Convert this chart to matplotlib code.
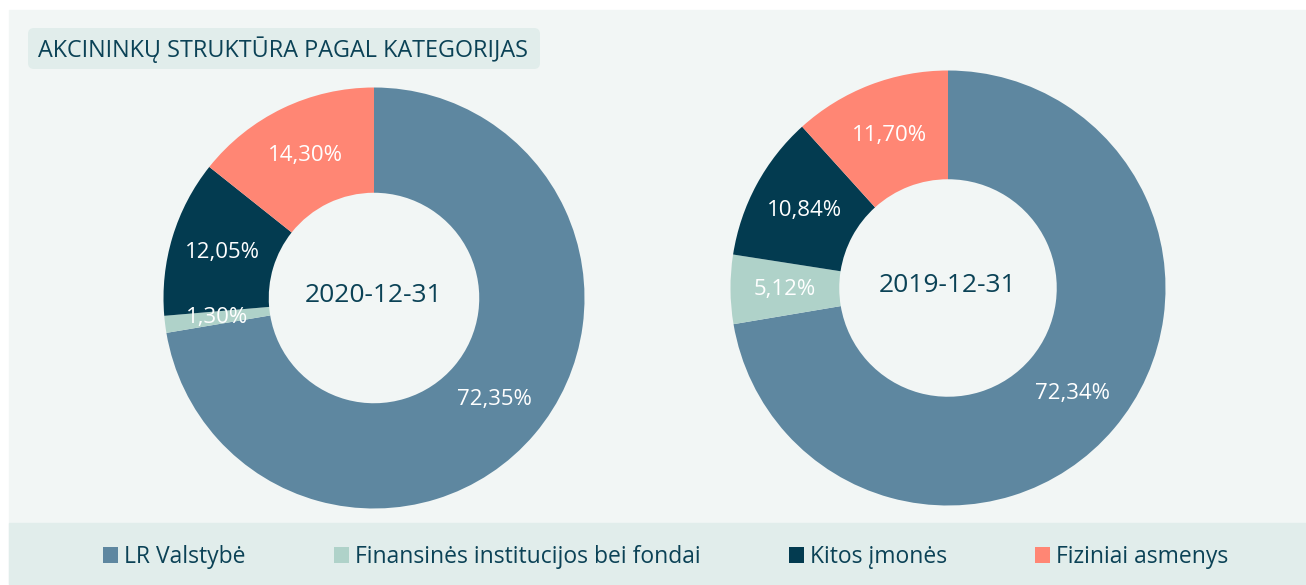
import matplotlib.pyplot as plt
from matplotlib.patches import Rectangle, FancyBboxPatch, Patch

plt.rcParams['font.family'] = ['Open Sans', 'DejaVu Sans']

categories = ['LR Valstybė', 'Finansinės institucijos bei fondai',
              'Kitos įmonės', 'Fiziniai asmenys']
share_2020 = [72.35, 1.30, 12.05, 14.30]
share_2019 = [72.34, 5.12, 10.84, 11.70]
dates = ['2020-12-31', '2019-12-31']
title = 'AKCININKŲ STRUKTŪRA PAGAL KATEGORIJAS'

colors = ['#5e87a0', '#afd2c9', '#033b50', '#ff8674']
text_col = '#0b4256'
panel_bg = '#f2f6f5'
band_bg = '#e1edeb'

W, H = 1306, 585
fig = plt.figure(figsize=(W / 100, H / 100), dpi=100)
fig.patch.set_facecolor('white')
ax = fig.add_axes([0, 0, 1, 1])
ax.set_xlim(0, W)
ax.set_ylim(0, H)
ax.set_aspect('equal')
ax.axis('off')

# panel background + legend band
ax.add_patch(Rectangle((9, 0), W - 9, H - 10, color=panel_bg, zorder=0))
ax.add_patch(Rectangle((9, 1), W - 9, 61, color=band_bg, zorder=0))

# title box
ax.add_patch(FancyBboxPatch((28, H - 69), 512, 41,
                            boxstyle='round,pad=0,rounding_size=6',
                            color=band_bg, lw=0, zorder=1))
ax.text(38, H - 50, title, fontsize=16.8, color=text_col,
        va='center', ha='left', zorder=2)


def pct_fmt(p):
    return '{:.2f}%'.format(p).replace('.', ',')


def donut(vals, cx, cy, r, label):
    wedges, _, autotexts = ax.pie(
        vals, colors=colors, startangle=90, counterclock=False,
        center=(cx, cy), radius=r, autopct=pct_fmt, pctdistance=0.75,
        wedgeprops=dict(width=r * 0.5, linewidth=0),
        textprops=dict(color='white', fontsize=16))
    ax.text(cx, cy + 3, label, ha='center', va='center',
            fontsize=19, color=text_col)


donut(share_2020, 374, H - 298, 210.5, dates[0])
donut(share_2019, 948, H - 288, 217.5, dates[1])
ax.set_xlim(0, W)
ax.set_ylim(0, H)

handles = [Patch(facecolor=c, edgecolor='none') for c in colors]
leg = ax.legend(handles, categories, loc='center',
                bbox_to_anchor=(665.5 / W, 28 / H), ncol=4,
                frameon=False, fontsize=16.5, handlelength=0.655,
                handleheight=0.655, handletextpad=0.26, columnspacing=3.86,
                borderaxespad=0, borderpad=0)
for t in leg.get_texts():
    t.set_color(text_col)

fig.savefig('out.png', dpi=100)
